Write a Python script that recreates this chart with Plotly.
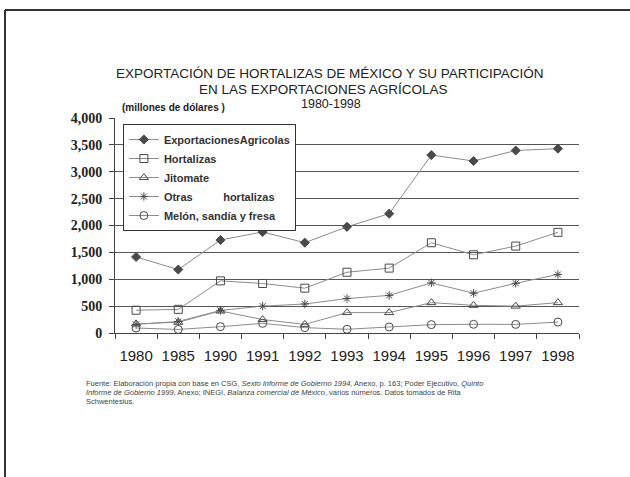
import plotly.graph_objects as go

years = ["1980", "1985", "1990", "1991", "1992", "1993", "1994", "1995", "1996", "1997", "1998"]
export_agricolas = [1415, 1180, 1730, 1880, 1680, 1975, 2220, 3310, 3200, 3395, 3430]
hortalizas = [424, 440, 970, 921, 834, 1130, 1207, 1679, 1455, 1617, 1873]
jitomate = [170, 200, 410, 250, 160, 380, 380, 565, 515, 500, 565]
otras_hortalizas = [160, 215, 420, 500, 540, 641, 700, 933, 740, 925, 1089]
melon = [93, 66, 118, 180, 100, 69, 112, 155, 162, 160, 203]

series_names = ["ExportacionesAgricolas", "Hortalizas", "Jitomate",
                "Otras\u00a0\u00a0\u00a0\u00a0\u00a0\u00a0\u00a0\u00a0\u00a0\u00a0hortalizas",
                "Melón, sandía y fresa"]
y_ticks = [0, 500, 1000, 1500, 2000, 2500, 3000, 3500, 4000]
y_tick_text = ["0", "500", "1,000", "1,500", "2,000", "2,500", "3,000", "3,500", "4,000"]

series = [export_agricolas, hortalizas, jitomate, otras_hortalizas, melon]
symbols = ["diamond", "square-open", "triangle-up-open", "asterisk-open", "circle-open"]
sizes = [7, 8, 8, 7, 8]

fig = go.Figure()
for name, vals, sym, sz in zip(series_names, series, symbols, sizes):
    fig.add_trace(go.Scatter(
        x=years, y=vals, name=name, mode="lines+markers",
        line=dict(color="#8c8c8c", width=1),
        marker=dict(symbol=sym, size=sz, color="#4a4a4a",
                    line=dict(color="#4a4a4a", width=1)),
    ))

fig.update_layout(
    width=630, height=477,
    margin=dict(l=115, r=51, t=118, b=144),
    paper_bgcolor="white", plot_bgcolor="white",
    showlegend=True,
    legend=dict(x=0.017, y=0.972, xanchor="left", yanchor="top",
                bgcolor="white", bordercolor="#333", borderwidth=1,
                font=dict(family="Liberation Sans", size=11, color="#333",
                          weight="bold"),
                itemwidth=30, tracegroupgap=0),
    xaxis=dict(type="category", range=[-0.5, 10.5], showgrid=False,
               showline=True, linecolor="#444",
               linewidth=1, ticks="outside", tickson="boundaries", ticklen=5,
               tickcolor="#444", tickangle=0,
               tickfont=dict(family="Liberation Sans", size=15, color="#222"),
               ticklabelstandoff=9),
    yaxis=dict(range=[0, 4000], tickvals=y_ticks, ticktext=y_tick_text,
               showgrid=True, gridcolor="#555", gridwidth=1,
               showline=True, linecolor="#444", linewidth=1,
               ticks="outside", ticklen=5, tickcolor="#444", zeroline=False,
               tickfont=dict(family="Liberation Serif", size=14, color="#222",
                             weight="bold"),
               ticklabelstandoff=4),
    font=dict(family="Liberation Sans"),
)

anns = [
    dict(text="EXPORTACIÓN DE HORTALIZAS DE MÉXICO Y SU PARTICIPACIÓN",
         x=330, y=73, size=13.5),
    dict(text="EN LAS EXPORTACIONES AGRÍCOLAS", x=323, y=89, size=13.5),
    dict(text="1980-1998", x=331, y=104, size=12.5),
]
for a in anns:
    fig.add_annotation(text=a["text"], xref="paper", yref="paper",
                       x=(a["x"] - 115) / 464, y=(333 - a["y"]) / 215,
                       xanchor="center", yanchor="middle", showarrow=False,
                       font=dict(family="Liberation Sans", size=a["size"], color="#222"))

fig.add_annotation(text="(millones de dólares )", xref="paper", yref="paper",
                   x=(120 - 115) / 464, y=(333 - 108) / 215, xanchor="left",
                   yanchor="middle", showarrow=False,
                   font=dict(family="Liberation Sans", size=10, color="#222", weight="bold"))

footnote_lines = [
    "Fuente: Elaboración propia con base en CSG, <i>Sexto Informe de Gobierno 1994</i>, "
    "Anexo, p. 163; Poder Ejecutivo, <i>Quinto</i>",
    "<i>Informe de Gobierno 1999</i>, Anexo; INEGI, <i>Balanza comercial de México</i>, "
    "varios números. Datos tomados de Rita",
    "Schwentesius.",
]
for i, line in enumerate(footnote_lines):
    fig.add_annotation(text=line, xref="paper", yref="paper",
                       x=(84 - 115) / 464, y=(333 - (383 + 9 * i)) / 215,
                       xanchor="left", yanchor="middle", align="left",
                       showarrow=False,
                       font=dict(family="Liberation Sans", size=7.5, color="#444"))

# slide frame (top and left edges)
fig.add_shape(type="line", xref="paper", yref="paper",
              x0=(5 - 115) / 464, x1=(630 - 115) / 464,
              y0=(333 - 10) / 215, y1=(333 - 10) / 215,
              line=dict(color="#333", width=2))
fig.add_shape(type="line", xref="paper", yref="paper",
              x0=(5 - 115) / 464, x1=(5 - 115) / 464,
              y0=(333 - 10) / 215, y1=(333 - 477) / 215,
              line=dict(color="#333", width=2))

fig.write_html("out.html", config={"displayModeBar": False},
               post_script="document.body.style.margin='0';document.body.style.overflow='hidden';")
